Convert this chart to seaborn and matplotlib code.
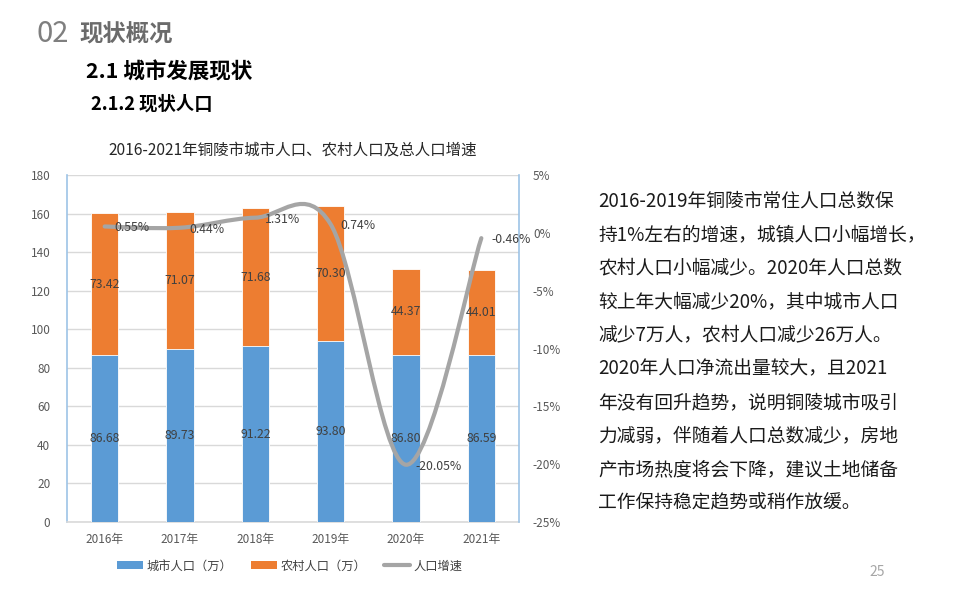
import matplotlib
matplotlib.use("Agg")
import matplotlib.pyplot as plt
import seaborn as sns
import pandas as pd
import numpy as np
from matplotlib.path import Path
from matplotlib.patches import PathPatch, Patch
from matplotlib.lines import Line2D
from matplotlib.ticker import FuncFormatter, MultipleLocator

# ---- data ----
years = ["2016年", "2017年", "2018年", "2019年", "2020年", "2021年"]
city_pop = [86.68, 89.73, 91.22, 93.80, 86.80, 86.59]
rural_pop = [73.42, 71.07, 71.68, 70.30, 44.37, 44.01]
growth = [0.55, 0.44, 1.31, 0.74, -20.05, -0.46]
growth_labels = ["0.55%", "0.44%", "1.31%", "0.74%", "-20.05%", "-0.46%"]
series_names = ["城市人口（万）", "农村人口（万）", "人口增速"]

para_lines = [
    "2016-2019年铜陵市常住人口总数保",
    "持1%左右的增速，城镇人口小幅增长，",
    "农村人口小幅减少。2020年人口总数",
    "较上年大幅减少20%，其中城市人口",
    "减少7万人，农村人口减少26万人。",
    "2020年人口净流出量较大，且2021",
    "年没有回升趋势，说明铜陵城市吸引",
    "力减弱，伴随着人口总数减少，房地",
    "产市场热度将会下降，建议土地储备",
    "工作保持稳定趋势或稍作放缓。",
]

BLUE = "#5B9BD5"
ORANGE = "#ED7D31"
GRAY = "#A5A5A5"
TXT = "#404040"
TICK = "#595959"

sns.set_theme(style="white")
plt.rcParams["font.family"] = ["Noto Sans CJK SC", "DejaVu Sans"]

W, H = 960, 600
fig = plt.figure(figsize=(9.6, 6.0), dpi=100)
fig.patch.set_facecolor("white")

def fx(px):
    return px / W

def fy(py):
    return 1 - py / H

ax = fig.add_axes([fx(67), fy(522), fx(519) - fx(67), fy(175) - fy(522)])

df = pd.DataFrame({"year": years, "city": city_pop, "rural": rural_pop})
df["total"] = df["city"] + df["rural"]

sns.barplot(data=df, x="year", y="total", color=ORANGE, saturation=1, width=0.367,
            edgecolor="white", linewidth=0.6, ax=ax, zorder=2)
sns.barplot(data=df, x="year", y="city", color=BLUE, saturation=1, width=0.367,
            edgecolor="white", linewidth=0.6, ax=ax, zorder=3)

ax.set_ylim(0, 180)
ax.set_xlim(-0.5, 5.5)
ax.yaxis.set_major_locator(MultipleLocator(20))
ax.grid(axis="y", color="#D9D9D9", linewidth=1.0, zorder=0)
ax.set_axisbelow(True)
ax.set_xlabel("")
ax.set_ylabel("")
ax.tick_params(axis="y", length=0, pad=12, labelsize=8.5, labelcolor=TICK)
ax.tick_params(axis="x", length=0, pad=8, labelsize=8.5, labelcolor=TICK)
ax.spines["top"].set_visible(False)
ax.spines["left"].set_color("#9DC3E6")
ax.spines["left"].set_linewidth(1.2)
ax.spines["bottom"].set_color("#D9D9D9")
ax.spines["bottom"].set_linewidth(1.2)
ax.spines["right"].set_visible(False)

for i in range(len(years)):
    ax.text(i, city_pop[i] / 2, f"{city_pop[i]:.2f}", ha="center", va="center",
            fontsize=8.8, color=TXT, zorder=5)
    ax.text(i, city_pop[i] + rural_pop[i] / 2, f"{rural_pop[i]:.2f}", ha="center",
            va="center", fontsize=8.8, color=TXT, zorder=5)

# secondary axis: growth line (smoothed like the source chart)
ax2 = ax.twinx()
ax2.set_ylim(-25, 5)
ax2.set_xlim(-0.5, 5.5)
ax2.yaxis.set_major_locator(MultipleLocator(5))
ax2.yaxis.set_major_formatter(FuncFormatter(lambda v, p: f"{v:.0f}%"))
ax2.tick_params(axis="y", length=0, pad=10, labelsize=8.5, labelcolor=TICK)
for s in ["top", "left", "bottom"]:
    ax2.spines[s].set_visible(False)
ax2.spines["right"].set_color("#9DC3E6")
ax2.spines["right"].set_linewidth(1.2)
ax2.grid(False)

xs = list(range(len(growth)))
pts = list(zip(xs, growth))
verts = [pts[0]]
codes = [Path.MOVETO]
n = len(pts)
for i in range(n - 1):
    p0 = pts[i - 1] if i > 0 else pts[i]
    p1 = pts[i]
    p2 = pts[i + 1]
    p3 = pts[i + 2] if i + 2 < n else pts[i + 1]
    c1 = (p1[0] + (p2[0] - p0[0]) / 6, p1[1] + (p2[1] - p0[1]) / 6)
    c2 = (p2[0] - (p3[0] - p1[0]) / 6, p2[1] - (p3[1] - p1[1]) / 6)
    verts += [c1, c2, p2]
    codes += [Path.CURVE4, Path.CURVE4, Path.CURVE4]
patch = PathPatch(Path(verts, codes), facecolor="none", edgecolor=GRAY,
                  linewidth=3, capstyle="round", joinstyle="round", zorder=4)
ax2.add_patch(patch)

for i in range(n):
    ax2.annotate(growth_labels[i], (xs[i], growth[i]), xytext=(7, -1),
                 textcoords="offset points", ha="left", va="center",
                 fontsize=8.8, color=TXT, zorder=6)

# legend
handles = [Patch(facecolor=BLUE, edgecolor="none"),
           Patch(facecolor=ORANGE, edgecolor="none"),
           Line2D([0], [0], color=GRAY, linewidth=3)]
fig.legend(handles, series_names, loc="center", bbox_to_anchor=(fx(290), fy(566)),
           ncol=3, frameon=False, fontsize=8.8, handlelength=2.1, handleheight=0.6,
           columnspacing=1.5, handletextpad=0.3, labelcolor=TXT)

# chart title
fig.text(fx(293), fy(150), "2016-2021年铜陵市城市人口、农村人口及总人口增速",
         ha="center", va="center", fontsize=11.2, color="#262626")

# page headers
fig.text(fx(36), fy(34), "02", ha="left", va="center", fontsize=21, color="#7F7F7F")
fig.text(fx(79), fy(34), "现状概况", ha="left", va="center", fontsize=16.8,
         color="#6B6B6B", fontweight="bold")
fig.text(fx(86), fy(72), "2.1 城市发展现状", ha="left", va="center", fontsize=15.5,
         color="black", fontweight="bold")
fig.text(fx(91), fy(104), "2.1.2 现状人口", ha="left", va="center", fontsize=13.2,
         color="black", fontweight="bold")

# paragraph
for i, line in enumerate(para_lines):
    fig.text(fx(598), fy(200.7 + 33.6 * i), line, ha="left", va="center",
             fontsize=13.5, color="#1A1A1A")

fig.text(fx(877), fy(572), "25", ha="center", va="center", fontsize=10, color="#A6A6A6")

fig.savefig("out.png", dpi=100, facecolor="white")
